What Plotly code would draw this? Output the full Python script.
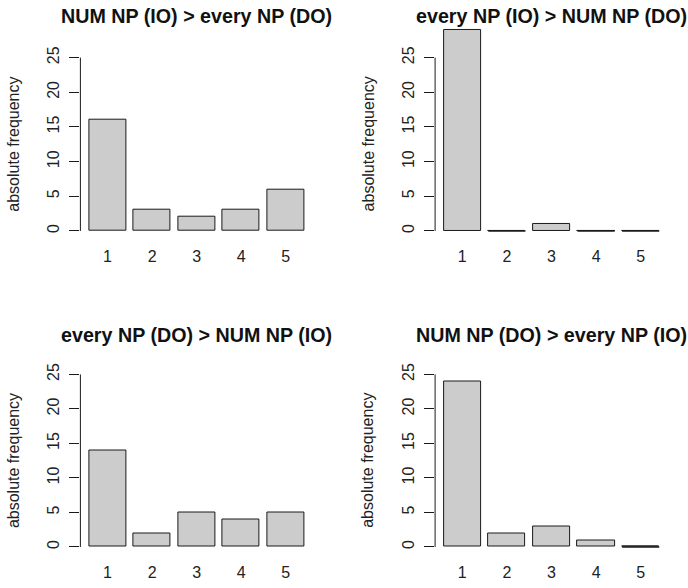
import plotly.graph_objects as go

# ---------------- data ----------------
categories = ["1", "2", "3", "4", "5"]
titles = [
    "NUM NP (IO) > every NP (DO)",
    "every NP (IO) > NUM NP (DO)",
    "every NP (DO) > NUM NP (IO)",
    "NUM NP (DO) > every NP (IO)",
]
freq_num_io_every_do = [16, 3, 2, 3, 6]
freq_every_io_num_do = [29, 0, 1, 0, 0]
freq_every_do_num_io = [14, 2, 5, 4, 5]
freq_num_do_every_io = [24, 2, 3, 1, 0]
y_ticks = [0, 5, 10, 15, 20, 25]
y_label = "absolute frequency"

series = [freq_num_io_every_do, freq_every_io_num_do,
          freq_every_do_num_io, freq_num_do_every_io]

# ---------------- geometry (pixels) ----------------
W, H = 688, 588
FONT = "Liberation Sans, Arial, Helvetica, sans-serif"
BAR_FILL = "#cccccc"
EDGE = "#1a1a1a"
BAR_W = 1 / 1.2

col_px = [(80.4, 312.9), (435.1, 667.9)]
row_scale = [(228.5, 6.98), (546.7, 6.95)]   # (pixel of value 0, px per unit)

def px_x(p):
    return p / W

def px_y(p):
    return 1 - p / H

fig = go.Figure()
positions = list(range(len(categories)))

for k, vals in enumerate(series):
    r, c = divmod(k, 2)
    idx = "" if k == 0 else str(k + 1)
    xa, ya = "x" + idx, "y" + idx
    zero_px, unit = row_scale[r]
    ymin = -1
    ymax = max(26, max(vals) + 1)
    dom_y = [px_y(zero_px - ymin * unit), px_y(zero_px - ymax * unit)]
    dom_x = [px_x(col_px[c][0]), px_x(col_px[c][1])]

    fig.add_trace(go.Bar(
        x=positions, y=vals, width=BAR_W,
        marker=dict(color=BAR_FILL, line=dict(color=EDGE, width=1)),
        xaxis=xa, yaxis=ya, showlegend=False, hoverinfo="x+y",
    ))
    # zero-height bars drawn as their outline
    zx, zy = [], []
    for p, v in zip(positions, vals):
        if v == 0:
            zx += [p - BAR_W / 2, p + BAR_W / 2, None]
            zy += [0, 0, None]
    if zx:
        fig.add_trace(go.Scatter(
            x=zx, y=zy, mode="lines", line=dict(color=EDGE, width=1.5),
            xaxis=xa, yaxis=ya, showlegend=False, hoverinfo="skip",
        ))

    xkey = "xaxis" + idx
    ykey = "yaxis" + idx
    fig.layout[xkey] = dict(
        domain=dom_x, anchor=ya, range=[-0.61, 4.61],
        tickvals=positions, ticktext=categories, ticks="",
        showline=False, showgrid=False, zeroline=False,
        ticklabelstandoff=7,
        tickfont=dict(family=FONT, size=16, color="#222222"),
        fixedrange=True,
    )
    fig.layout[ykey] = dict(
        domain=dom_y, anchor=xa, range=[ymin, ymax],
        tickvals=y_ticks, ticktext=[str(t) for t in y_ticks],
        ticks="outside", ticklen=10, tickwidth=1, tickcolor=EDGE,
        tickangle=-90, ticklabelstandoff=4,
        showline=False, showgrid=False, zeroline=False,
        tickfont=dict(family=FONT, size=16, color="#222222"),
        fixedrange=True,
    )
    # y axis line spanning the tick range
    fig.add_shape(type="line", xref=xa + " domain", yref=ya,
                  x0=0, x1=0, y0=y_ticks[0], y1=y_ticks[-1],
                  line=dict(color=EDGE, width=1))

    # title
    if r == 0:
        ty, tanchor = 1.0, "top"
    else:
        ty, tanchor = px_y(333), "middle"
    fig.add_annotation(
        text="<b>" + titles[k] + "</b>", xref="paper", yref="paper",
        x=(dom_x[0] + dom_x[1]) / 2, y=ty,
        xanchor="center", yanchor=tanchor, showarrow=False, borderpad=0,
        font=dict(family=FONT, size=19.7, color="#111111"),
    )
    # y axis label, centered on the standard plot region
    reg_center = zero_px - 12.5 * unit
    fig.add_annotation(
        text=y_label, xref="paper", yref="paper",
        x=px_x(col_px[c][0] - 67), y=px_y(reg_center),
        xanchor="center", yanchor="middle", textangle=-90, showarrow=False,
        borderpad=0,
        font=dict(family=FONT, size=16, color="#222222"),
    )

fig.update_layout(
    width=W, height=H, margin=dict(l=0, r=0, t=0, b=0),
    paper_bgcolor="white", plot_bgcolor="white",
    showlegend=False, bargap=0,
)

fig.write_html(
    "out.html",
    config={"displayModeBar": False},
    post_script="document.body.style.margin='0px';"
                "document.body.style.overflow='hidden';",
)
